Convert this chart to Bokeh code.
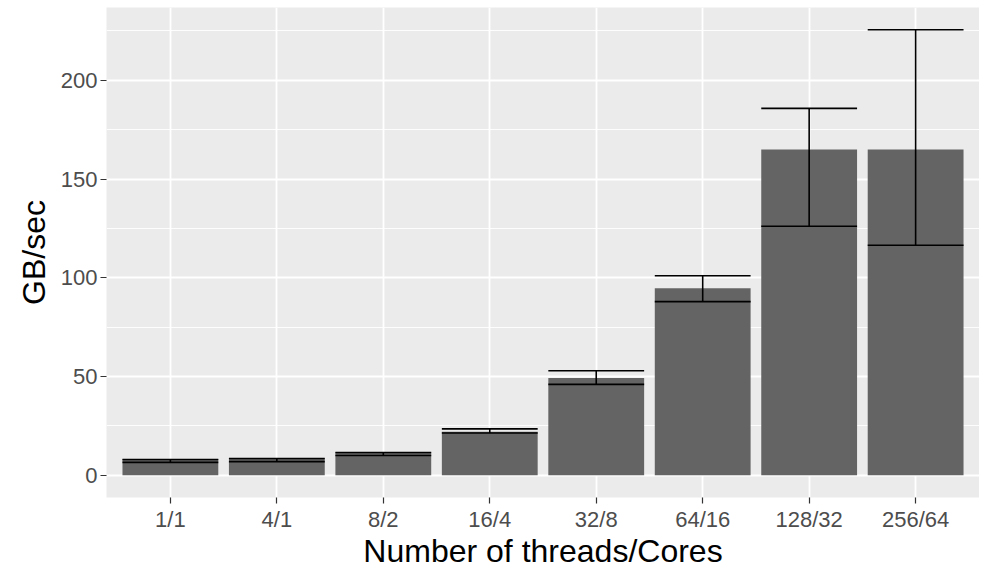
from bokeh.plotting import figure
from bokeh.models import Range1d, FixedTicker, ColumnDataSource
from bokeh.embed import file_html
from bokeh.resources import INLINE

categories = ["1/1", "4/1", "8/2", "16/4", "32/8", "64/16", "128/32", "256/64"]
gbps = [8.2, 8.6, 11.6, 22.0, 49.2, 94.7, 165.0, 165.0]
err_low = [6.5, 6.9, 10.0, 21.4, 46.0, 87.9, 126.1, 116.5]
err_high = [8.0, 8.5, 11.5, 23.5, 52.9, 101.0, 185.8, 225.6]
y_ticks = [0, 50, 100, 150, 200]
y_minor = [25, 75, 125, 175, 225]

BAR_W = 0.9
xs = list(range(1, len(categories) + 1))
src = ColumnDataSource(dict(
    x=xs, top=gbps, lo=err_low, hi=err_high,
    x0=[v - BAR_W / 2 for v in xs], x1=[v + BAR_W / 2 for v in xs],
))

ymax = max(err_high)
pad = 0.05 * ymax
x_start, x_end = 0.4, len(categories) + 0.6
p = figure(width=979, height=571,
           x_range=Range1d(x_start, x_end),
           y_range=Range1d(-pad, ymax + pad),
           output_backend="svg", toolbar_location=None,
           background_fill_color="#EBEBEB", border_fill_color="white",
           min_border_left=106, min_border_right=0, min_border_top=7,
           min_border_bottom=40)
p.outline_line_color = None

p.vbar(x="x", top="top", bottom=0, width=BAR_W, fill_color="#646464",
       line_color=None, source=src)
for a, b, c, d in [("x", "x", "lo", "hi"), ("x0", "x1", "hi", "hi"), ("x0", "x1", "lo", "lo")]:
    p.segment(x0=a, x1=b, y0=c, y1=d, line_color="black", line_width=1.6, source=src)

p.xaxis.ticker = FixedTicker(ticks=xs, minor_ticks=[])
p.xaxis.major_label_overrides = {v: c for v, c in zip(xs, categories)}
p.yaxis.ticker = FixedTicker(ticks=y_ticks, minor_ticks=y_minor)

for ax in (p.xaxis, p.yaxis):
    ax.axis_line_color = None
    ax.major_tick_line_color = "#333333"
    ax.major_tick_line_width = 1.2
    ax.major_tick_out = 6
    ax.major_tick_in = 0
    ax.minor_tick_line_color = None
    ax.major_label_text_font = "Liberation Sans"
    ax.major_label_text_font_size = "22px"
    ax.major_label_text_color = "#4D4D4D"
    ax.major_label_standoff = 3
    ax.axis_label_text_font = "Liberation Sans"
    ax.axis_label_text_font_size = "32px"
    ax.axis_label_text_font_style = "normal"
    ax.axis_label_text_color = "black"

p.yaxis.axis_label_standoff = 6
p.xaxis.axis_label_standoff = -2
p.xaxis.axis_label_text_line_height = 0.9

p.xaxis.axis_label = "Number of threads/Cores"
p.yaxis.axis_label = "GB/sec"

p.xgrid.grid_line_color = "white"
p.xgrid.grid_line_width = 1.8
p.ygrid.grid_line_color = "white"
p.ygrid.grid_line_width = 1.8
p.ygrid.minor_grid_line_color = "white"
p.ygrid.minor_grid_line_width = 0.9

open("out.html", "w").write(file_html(p, INLINE))
